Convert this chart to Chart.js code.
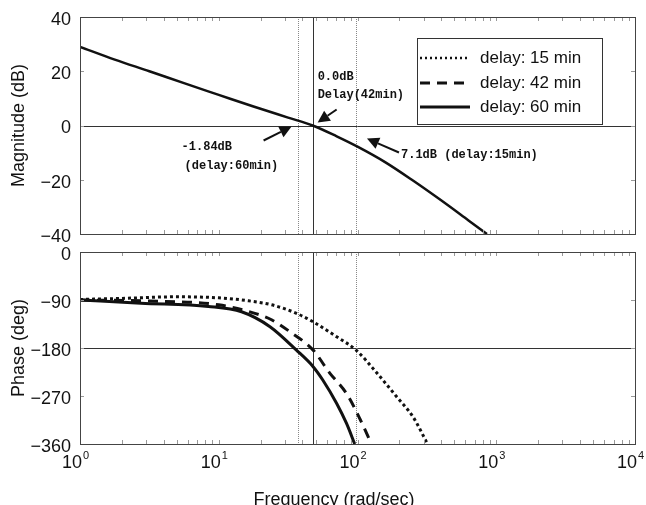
<!DOCTYPE html>
<html>
<head>
<meta charset="utf-8">
<script src="https://cdn.jsdelivr.net/npm/chart.js@4.4.0/dist/chart.umd.min.js"></script>
<style>
    body { margin: 0; background: #fff; }
    #wrap { position: relative; width: 646px; height: 505px; overflow: hidden; background: #fff; }
    canvas { position: absolute; left: 0; }
    #magChart { top: 0; }
    #phaseChart { top: 245px; }
</style>
</head>
<body>
<div id="wrap">
    <canvas id="magChart" width="646" height="245"></canvas>
    <canvas id="phaseChart" width="646" height="260"></canvas>
</div>
<script>
// axis ticks
const xTicks = [1, 10, 100, 1000, 10000];
const magTicks = [40, 20, 0, -20, -40];
const phaseTicks = [0, -90, -180, -270, -360];

const seriesNames = ['delay: 15 min', 'delay: 42 min', 'delay: 60 min'];

// magnitude (same for every delay, only one curve drawn)
const magFreq = [1, 1.78, 3.16, 5.62, 10, 17.8, 31.6, 47.5, 70.8, 100, 158, 251, 398, 631, 857];
const magDb   = [29, 24.3, 20.0, 15.6, 11.3, 7.0, 2.9, 0, -4.0, -7.8, -13.5, -20.3, -27.5, -35.0, -40];

// phase, delay 15 min
const phaseFreq15 = [1, 2.0, 5.01, 10, 15.8, 24.0, 36.3, 47.9, 70.8, 97.7, 138, 191, 251, 320];
const phase15     = [-89, -87, -84, -86, -91, -99, -115, -131, -159, -184, -227, -271, -309, -360];

// phase, delay 42 min
const phaseFreq42 = [1, 3.16, 10, 18.2, 24.0, 32.4, 47.9, 63.1, 83.2, 105, 126];
const phase42     = [-90, -92, -99, -115, -127, -149, -184, -227, -265, -315, -360];

// phase, delay 60 min
const phaseFreq60 = [1, 2.75, 8.41, 14.6, 23.4, 36.3, 47.9, 56.2, 70.8, 83.2, 95.5];
const phase60     = [-90, -96, -102, -112, -140, -184, -215, -240, -284, -321, -360];

// vertical marker lines (60 min, 42 min, 15 min)
const markerFreq = [37, 47.5, 97.5];

// annotation texts
const note60 = ['-1.84dB', '(delay:60min)'];
const note42 = ['0.0dB', 'Delay(42min)'];
const note15 = ['7.1dB (delay:15min)'];

const INK = '#111';
const tickFont = { family: '"Liberation Sans", Arial, sans-serif', size: 18 };

function toPoints(xs, ys) {
    return xs.map((x, i) => ({ x: x, y: ys[i] }));
}

function fmtTick(v) {
    return v < 0 ? '\u2212' + Math.abs(v) : String(v);
}

function lineStyle(kind) {
    if (kind === 0) return { borderDash: [3, 3], borderWidth: 3 };
    if (kind === 1) return { borderDash: [10, 7], borderWidth: 3 };
    return { borderDash: [], borderWidth: 3 };
}

function drawArrow(ctx, x1, y1, x2, y2) {
    const ang = Math.atan2(y2 - y1, x2 - x1);
    const len = 12, half = 6;
    const bx = x2 - Math.cos(ang) * len, by = y2 - Math.sin(ang) * len;
    ctx.save();
    ctx.strokeStyle = INK;
    ctx.fillStyle = INK;
    ctx.lineWidth = 2;
    ctx.beginPath();
    ctx.moveTo(x1, y1);
    ctx.lineTo(bx, by);
    ctx.stroke();
    ctx.beginPath();
    ctx.moveTo(x2, y2);
    ctx.lineTo(bx - Math.sin(ang) * half, by + Math.cos(ang) * half);
    ctx.lineTo(bx + Math.sin(ang) * half, by - Math.cos(ang) * half);
    ctx.closePath();
    ctx.fill();
    ctx.restore();
}

function drawFrame(chart) {
    const { ctx, chartArea: a, scales } = chart;
    ctx.save();
    // minor ticks on the frame
    ctx.strokeStyle = '#999';
    ctx.lineWidth = 1;
    ctx.beginPath();
    for (let d = 1; d < 10000; d *= 10) {
        for (let k = 1; k <= 10; k++) {
            const px = Math.round(scales.x.getPixelForValue(d * k)) + 0.5;
            ctx.moveTo(px, a.bottom); ctx.lineTo(px, a.bottom - 4);
            ctx.moveTo(px, a.top); ctx.lineTo(px, a.top + 4);
        }
    }
    scales.y.ticks.forEach(t => {
        const py = Math.round(scales.y.getPixelForValue(t.value)) + 0.5;
        ctx.moveTo(a.left, py); ctx.lineTo(a.left + 4, py);
        ctx.moveTo(a.right, py); ctx.lineTo(a.right - 4, py);
    });
    ctx.stroke();
    ctx.strokeStyle = '#444';
    ctx.strokeRect(Math.round(a.left) + 0.5, Math.round(a.top) + 0.5,
        Math.round(a.right - a.left), Math.round(a.bottom - a.top));
    ctx.restore();
}

function drawRefLines(chart, yRef) {
    const { ctx, chartArea: a, scales } = chart;
    ctx.save();
    ctx.lineWidth = 1;
    // horizontal reference line
    const py = Math.round(scales.y.getPixelForValue(yRef)) + 0.5;
    ctx.strokeStyle = '#333';
    ctx.beginPath();
    ctx.moveTo(a.left, py); ctx.lineTo(a.right, py);
    ctx.stroke();
    // vertical marker lines
    markerFreq.forEach((f, i) => {
        const px = Math.round(scales.x.getPixelForValue(f)) + 0.5;
        ctx.strokeStyle = i === 1 ? '#333' : '#888';
        ctx.setLineDash(i === 1 ? [] : [1, 1]);
        ctx.beginPath();
        ctx.moveTo(px, a.top); ctx.lineTo(px, a.bottom);
        ctx.stroke();
    });
    ctx.restore();
}

const magPlugin = {
    id: 'magDecor',
    beforeDatasetsDraw(chart) {
        drawRefLines(chart, 0);
    },
    afterDraw(chart) {
        const { ctx, scales } = chart;
        drawFrame(chart);

        // legend box
        ctx.save();
        ctx.fillStyle = '#fff';
        ctx.fillRect(417, 38, 185, 86);
        ctx.strokeStyle = '#333';
        ctx.lineWidth = 1;
        ctx.strokeRect(417.5, 38.5, 185, 86);
        const rows = [58, 83, 107];
        seriesNames.forEach((name, i) => {
            const st = lineStyle(i);
            ctx.strokeStyle = INK;
            ctx.lineWidth = i === 0 ? 2.5 : 3;
            ctx.setLineDash(i === 0 ? [2, 3] : st.borderDash);
            ctx.beginPath();
            ctx.moveTo(420, rows[i]); ctx.lineTo(470, rows[i]);
            ctx.stroke();
            ctx.setLineDash([]);
            ctx.fillStyle = INK;
            ctx.font = '17px "Liberation Sans", Arial, sans-serif';
            ctx.textBaseline = 'middle';
            ctx.textAlign = 'left';
            ctx.fillText(name, 480, rows[i]);
        });
        ctx.restore();

        // annotations around the 0 dB crossing
        const y0 = scales.y.getPixelForValue(0);
        const mx = markerFreq.map(f => scales.x.getPixelForValue(f));
        ctx.save();
        ctx.fillStyle = INK;
        ctx.font = 'bold 12px "Liberation Mono", "DejaVu Sans Mono", monospace';
        ctx.textBaseline = 'middle';
        ctx.textAlign = 'left';
        ctx.fillText(note60[0], mx[0] - 116, y0 + 21);
        ctx.fillText(note60[1], mx[0] - 113, y0 + 40);
        ctx.fillText(note42[0], mx[1] + 5, y0 - 49);
        ctx.fillText(note42[1], mx[1] + 5, y0 - 31);
        ctx.fillText(note15[0], mx[2] + 45, y0 + 29);
        ctx.restore();
        drawArrow(ctx, mx[0] - 34, y0 + 15, mx[0] - 6, y0 + 1);
        drawArrow(ctx, mx[1] + 24, y0 - 16, mx[1] + 5, y0 - 3);
        drawArrow(ctx, mx[2] + 43, y0 + 27, mx[2] + 11, y0 + 13);
    }
};

const phasePlugin = {
    id: 'phaseDecor',
    beforeDatasetsDraw(chart) {
        drawRefLines(chart, -180);
    },
    afterDraw(chart) {
        const { ctx, chartArea: a, scales } = chart;
        drawFrame(chart);
        // decade labels 10^n
        ctx.save();
        ctx.fillStyle = INK;
        ctx.textBaseline = 'middle';
        xTicks.forEach((v, n) => {
            const px = scales.x.getPixelForValue(v);
            ctx.font = '18px "Liberation Sans", Arial, sans-serif';
            ctx.textAlign = 'right';
            ctx.fillText('10', px + 2, a.bottom + 19);
            ctx.font = '11px "Liberation Sans", Arial, sans-serif';
            ctx.textAlign = 'left';
            ctx.fillText(String(n), px + 3, a.bottom + 12);
        });
        ctx.font = '18px "Liberation Sans", Arial, sans-serif';
        ctx.textAlign = 'center';
        ctx.fillText('Frequency (rad/sec)', 334, a.bottom + 56);
        ctx.restore();
    }
};

function yAxis(min, max, ticks, title) {
    return {
        type: 'linear',
        min: min,
        max: max,
        afterBuildTicks: s => { s.ticks = ticks.map(v => ({ value: v })); },
        afterFit: s => {
            s.width = 80;
            // labels at the ends may overhang, keep the plot box where it is
            s.paddingTop = 0;
            s.paddingBottom = 0;
        },
        grid: { display: false },
        border: { display: false },
        ticks: { color: INK, font: tickFont, padding: 1, labelOffset: 3, callback: v => fmtTick(v) },
        title: {
            display: true,
            text: title,
            color: INK,
            font: { family: '"Liberation Sans", Arial, sans-serif', size: 18 },
            padding: { top: 8, bottom: 0 }
        }
    };
}

// Magnitude chart
new Chart(document.getElementById('magChart').getContext('2d'), {
    type: 'scatter',
    data: {
        datasets: [{
            label: 'magnitude',
            data: toPoints(magFreq, magDb),
            showLine: true,
            borderColor: INK,
            borderWidth: 2.5,
            pointRadius: 0,
            tension: 0.3,
            cubicInterpolationMode: 'monotone'
        }]
    },
    options: {
        responsive: false,
        animation: false,
        devicePixelRatio: 1,
        layout: { padding: { left: 0, top: 17, right: 11, bottom: 11 } },
        scales: {
            x: { type: 'logarithmic', min: 1, max: 10000, display: false },
            y: yAxis(-40, 40, magTicks, 'Magnitude (dB)')
        },
        plugins: { legend: { display: false }, tooltip: { enabled: false } }
    },
    plugins: [magPlugin]
});

// Phase chart
const phaseSets = [
    [phaseFreq15, phase15],
    [phaseFreq42, phase42],
    [phaseFreq60, phase60]
];

new Chart(document.getElementById('phaseChart').getContext('2d'), {
    type: 'scatter',
    data: {
        datasets: phaseSets.map((s, i) => Object.assign({
            label: seriesNames[i],
            data: toPoints(s[0], s[1]),
            showLine: true,
            borderColor: INK,
            pointRadius: 0,
            tension: 0.3,
            cubicInterpolationMode: 'monotone'
        }, lineStyle(i)))
    },
    options: {
        responsive: false,
        animation: false,
        devicePixelRatio: 1,
        layout: { padding: { left: 0, top: 7, right: 11, bottom: 0 } },
        scales: {
            x: {
                type: 'logarithmic',
                min: 1,
                max: 10000,
                afterFit: s => { s.height = 61; s.paddingLeft = 0; s.paddingRight = 0; },
                grid: { display: false },
                border: { display: false },
                ticks: { display: false }
            },
            y: yAxis(-360, 0, phaseTicks, 'Phase (deg)')
        },
        plugins: { legend: { display: false }, tooltip: { enabled: false } }
    },
    plugins: [phasePlugin]
});
</script>
</body>
</html>
